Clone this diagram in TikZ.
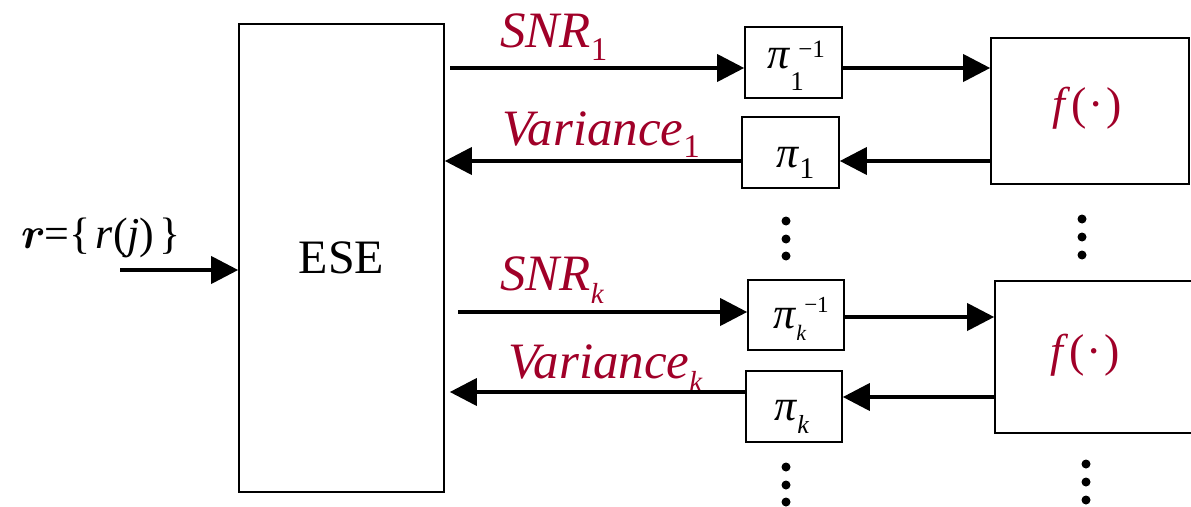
\RequirePackage{fix-cm}
\documentclass[tikz,border=0pt]{standalone}
\usepackage{bm}
\usepackage{fontspec}
\setmainfont{Liberation Serif}
\usetikzlibrary{arrows.meta}
\definecolor{lblred}{RGB}{160,0,40}
\newcommand{\lowsub}[3]{\raisebox{-#1}{\fontsize{#2}{#2}\selectfont #3}}
\newcommand{\highsup}[3]{\raisebox{#1}{\fontsize{#2}{#2}\selectfont #3}}
\begin{document}
\begin{tikzpicture}[x=1pt,y=-1pt,
  blk/.style={draw, line width=1.6pt, inner sep=0pt, anchor=center},
  arr/.style={line width=3.8pt, -{Triangle[length=27pt,width=27pt]}},
  lbl/.style={text=lblred, font=\fontsize{51}{55}\selectfont\itshape, inner sep=0pt, anchor=base west},
  pil/.style={font=\fontsize{44}{48}\selectfont, inner sep=0pt, anchor=base west},
  flbl/.style={text=lblred, font=\fontsize{46}{50}\selectfont, inner sep=0pt, anchor=center},
  dotmark/.style={fill=black}]
\useasboundingbox (0,0) rectangle (1191,506);

% blocks
\node[blk, minimum width=205pt, minimum height=468pt] (ese) at (341.5,258) {\raisebox{-2pt}{\fontsize{48}{50}\selectfont ESE}};
\node[blk, minimum width=97pt, minimum height=71pt] (p1i) at (793.5,62.5) {};
\node[blk, minimum width=97pt, minimum height=71pt] (p1) at (790.5,152.5) {};
\node[blk, minimum width=96pt, minimum height=70pt] (pki) at (796,315) {};
\node[blk, minimum width=96pt, minimum height=71pt] (pk) at (794,406.5) {};
\node[blk, minimum width=198pt, minimum height=146pt] (f1) at (1090,111) {};
\node[blk, minimum width=200pt, minimum height=152pt] (f2) at (1095,357) {};

% block labels
\node[pil] (p1il) at (767,68) {\textit{π}\rlap{\lowsub{22pt}{27pt}{1}}\kern8pt\highsup{11pt}{25pt}{−1}};
\node[pil] (p1l) at (776,167) {\textit{π}\lowsub{11pt}{30pt}{1}};
\node[pil] (pkil) at (773,328) {\textit{π}\rlap{\lowsub{12pt}{22pt}{\textit{k}}}\kern8pt\highsup{16pt}{23pt}{−1}};
\node[pil] (pkl) at (774,420) {\textit{π}\lowsub{13pt}{26pt}{\textit{k}}};
\node[flbl] (f1l) at (1087,108) {\textit{f}\kern1pt(\kern2pt·\kern2pt)};
\node[flbl] (f2l) at (1085,355) {\textit{f}\kern1pt(\kern2pt·\kern2pt)};

% signal labels
\node[lbl] (snr1) at (500,47) {SNR\lowsub{13pt}{33pt}{\upshape 1}};
\node[lbl] (var1) at (502,145) {Variance\lowsub{12pt}{33pt}{\upshape 1}};
\node[lbl] (snrk) at (500,290) {SNR\lowsub{13pt}{29pt}{k}};
\node[lbl] (vark) at (508,378) {Variance\lowsub{13pt}{29pt}{k}};
\node[font=\fontsize{44}{48}\selectfont, inner sep=0pt, anchor=base] (rin) at (101,248)
  {$\bm{r}$\kern-1pt=\{\kern5pt\textit{r}(\textit{j})\kern5pt\}};

% connectors
\coordinate (rs) at (120,270);
\draw[arr] (rs) -- (rs -| ese.west);
\coordinate (s1) at (450,68);
\draw[arr] (s1) -- (s1 -| p1i.west);
\draw[arr] (p1i.east |- s1) -- (f1.west |- s1);
\coordinate (v1) at (0,161);
\draw[arr] (f1.west |- v1) -- (p1.east |- v1);
\draw[arr] (p1.west |- v1) -- (ese.east |- v1);
\coordinate (sk) at (458,312);
\draw[arr] (sk) -- (sk -| pki.west);
\coordinate (ak) at (0,317);
\draw[arr] (pki.east |- ak) -- (f2.west |- ak);
\coordinate (bk) at (0,397);
\draw[arr] (f2.west |- bk) -- (pk.east |- bk);
\coordinate (vk) at (0,392);
\draw[arr] (pk.west |- vk) -- ([xshift=5pt]ese.east |- vk);

% vertical ellipses
\foreach \y in {221,239,256} \fill[dotmark] (786,\y) circle (4.5);
\foreach \y in {219,237,255} \fill[dotmark] (1082,\y) circle (4.5);
\foreach \y in {467,485,502} \fill[dotmark] (786,\y) circle (4.5);
\foreach \y in {464,482,500} \fill[dotmark] (1086,\y) circle (4.5);
\end{tikzpicture}
\end{document}
